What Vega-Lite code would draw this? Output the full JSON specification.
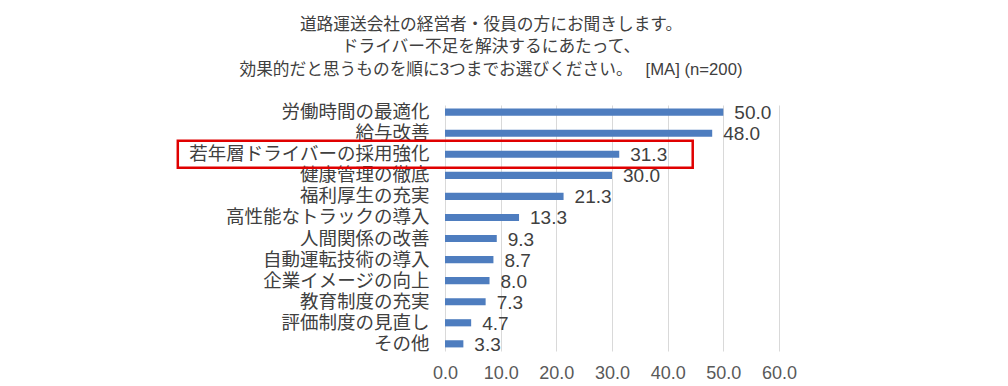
{
  "$schema": "https://vega.github.io/schema/vega-lite/v6.json",
  "autosize": "none",
  "width": 334,
  "height": 246,
  "padding": {"left": 445, "top": 105, "right": 229, "bottom": 35},
  "background": "white",
  "title": {
    "text": ["道路運送会社の経営者・役員の方にお聞きします。", "ドライバー不足を解決するにあたって、", "効果的だと思うものを順に3つまでお選びください。　 [MA] (n=200)"],
    "anchor": "middle",
    "frame": "group",
    "dx": -121,
    "offset": 24,
    "fontSize": 16.7,
    "fontWeight": "normal",
    "font": "Liberation Sans, Noto Sans CJK JP",
    "color": "#404040",
    "lineHeight": 22.5
  },
  "config": {
    "view": {"stroke": null},
    "font": "Liberation Sans, Noto Sans CJK JP"
  },
  "data": {
    "values": [
      {"item": "労働時間の最適化", "value": 50.0},
      {"item": "給与改善", "value": 48.0},
      {"item": "若年層ドライバーの採用強化", "value": 31.3},
      {"item": "健康管理の徹底", "value": 30.0},
      {"item": "福利厚生の充実", "value": 21.3},
      {"item": "高性能なトラックの導入", "value": 13.3},
      {"item": "人間関係の改善", "value": 9.3},
      {"item": "自動運転技術の導入", "value": 8.7},
      {"item": "企業イメージの向上", "value": 8.0},
      {"item": "教育制度の充実", "value": 7.3},
      {"item": "評価制度の見直し", "value": 4.7},
      {"item": "その他", "value": 3.3}
    ]
  },
  "encoding": {
    "y": {
      "field": "item",
      "type": "nominal",
      "sort": null,
      "scale": {"paddingInner": 0.66, "paddingOuter": 0.17},
      "axis": {
        "title": null,
        "ticks": false,
        "domain": false,
        "labelFontSize": 18.5,
        "labelColor": "#404040",
        "labelPadding": 16,
        "labelLimit": 0,
        "labelFont": "Noto Sans CJK JP"
      }
    }
  },
  "layer": [
    {
      "mark": {"type": "bar", "color": "#4e7dbf"},
      "encoding": {
        "x": {
          "field": "value",
          "type": "quantitative",
          "scale": {"domain": [0, 60], "nice": false},
          "axis": {
            "title": null,
            "values": [0, 10, 20, 30, 40, 50, 60],
            "format": ".1f",
            "grid": true,
            "gridColor": "#d9d9d9",
            "ticks": false,
            "domain": false,
            "labelFlush": false,
            "labelOverlap": false,
            "labelFontSize": 18,
            "labelColor": "#595959",
            "labelPadding": 13,
            "labelFont": "Liberation Sans"
          }
        }
      }
    },
    {
      "mark": {"type": "text", "align": "left", "dx": 11, "dy": 1, "fontSize": 19, "color": "#404040", "font": "Liberation Sans"},
      "encoding": {
        "x": {"field": "value", "type": "quantitative"},
        "text": {"field": "value", "type": "quantitative", "format": ".1f"}
      }
    },
    {
      "transform": [{"filter": "datum.item === '若年層ドライバーの採用強化'"}, {"calculate": "-48", "as": "x1"}, {"calculate": "44.5", "as": "x2"}],
      "mark": {"type": "bar", "fill": null, "fillOpacity": 0, "stroke": "#e00000", "strokeWidth": 2.5, "height": 27, "clip": false},
      "encoding": {
        "x": {"field": "x1", "type": "quantitative"},
        "x2": {"field": "x2"}
      }
    }
  ]
}
